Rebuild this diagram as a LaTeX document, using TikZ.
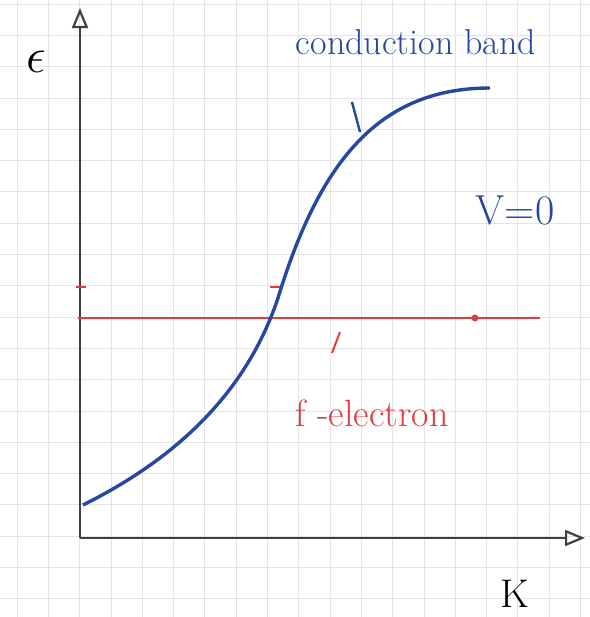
\documentclass[tikz,border=0pt]{standalone}
\usepackage{amsmath}
\usepackage{amssymb}
\usepackage{tikz}
\usetikzlibrary{arrows.meta}
\definecolor{stylo}{RGB}{38,72,160}
\definecolor{feutre}{RGB}{222,62,62}
\definecolor{quadrillage}{RGB}{228,228,228}
\tikzset{
  axe/.style={draw=black!75, line width=1.1pt},
  fleche/.style={-{Triangle[open,length=10pt,width=8pt]}},
  bande/.style={draw=stylo, line width=1.7pt},
  niveau/.style={draw=feutre, line width=1pt},
  texte/.style={inner sep=1pt, font=\fontsize{#1}{#1}\selectfont},
}

\begin{document}
\begin{tikzpicture}[x=0.5pt,y=-0.5pt]
    % Cadre de la feuille
    \useasboundingbox (0,0) rectangle (590,617);
    \fill[white] (0,0) rectangle (590,617);

    % Quadrillage du papier
    \foreach \i in {0,...,18}
        \draw[quadrillage] (17+31.3*\i,0) -- (17+31.3*\i,617);
    \foreach \j in {0,...,19}
        \draw[quadrillage] (0,4+31.3*\j) -- (590,4+31.3*\j);

    % Axes E et K
    \coordinate (O) at (80,538);
    \coordinate (Ehaut) at (80,8);
    \coordinate (Kfin) at (585,538);
    \draw[axe,fleche] (O) -- (Ehaut);
    \draw[axe,fleche] (O) -- (Kfin);
    \node[texte=26] (E) at (36,62) {$\epsilon$};
    \node[texte=20] (K) at (515,594) {K};

    % Niveau des f-electrons
    \coordinate (Fg) at (78,318);
    \coordinate (Fd) at (540,318);
    \draw[niveau] (Fg) -- (Fd);
    \fill[feutre] (475,318) circle (3.5);
    \draw[niveau] (76,287) -- (86,287);
    \draw[niveau] (270,287) -- (282,287);
    \draw[niveau] (332,353) -- (340,332);
    \node[texte=19, feutre] (fe) at (372,413) {f -electron};

    % Bande de conduction
    \coordinate (Bdebut) at (83,505);
    \coordinate (Binfl) at (278,298);
    \coordinate (Bfin) at (490,88);
    \draw[bande] (Bdebut) .. controls (163,465) and (243,403) .. (Binfl)
        .. controls (320,160) and (380,88) .. (Bfin);
    \draw[bande, line width=1.2pt] (352,102) -- (360,132);
    \node[texte=18, stylo] (cb) at (416,42) {conduction band};
    \node[texte=21, stylo] (V) at (515,210) {V=0};
\end{tikzpicture}
\end{document}
